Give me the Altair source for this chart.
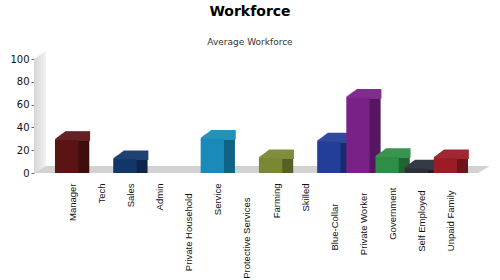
import altair as alt
import pandas as pd

categories = ["Manager", "Tech", "Sales", "Admin", "Private Household", "Service",
              "Protective Services", "Farming", "Skilled", "Blue-Collar",
              "Private Worker", "Government", "Self Employed", "Unpaid Family"]
values = [29, None, 12, None, None, 30, None, 13, None, 27.5, 66, 14, 4, 13]
front_colors = ["#5b1414", "#999999", "#12366a", "#999999", "#999999", "#1a8bb9",
                "#999999", "#7a8734", "#999999", "#233e98", "#7a2187", "#2f8e45",
                "#2b2f3a", "#9b1c26"]
y_ticks = [0, 20, 40, 60, 80, 100]


def shade(hexc, f):
    h = hexc.lstrip("#")
    r, g, b = (int(h[i:i + 2], 16) for i in (0, 2, 4))
    if f < 1:
        r, g, b = (int(c * f) for c in (r, g, b))
    else:
        r, g, b = (int(c + (255 - c) * (f - 1)) for c in (r, g, b))
    return "#%02x%02x%02x" % (r, g, b)


side_colors = [shade(c, 0.72) for c in front_colors]
top_colors = [shade(c, 1.06) for c in front_colors]

df = pd.DataFrame({"cat": categories, "value": values})
df = df.dropna()

W, H = 444, 114
DX, DY, N = 11, 8, 11

xscale = alt.Scale(domain=categories, paddingInner=0.2, paddingOuter=0.72)
yscale = alt.Scale(domain=[0, 100])

label_pad = {
    "condition": [
        {"test": "datum.value == 'Blue-Collar'", "value": 30},
        {"test": "datum.value == 'Protective Services'", "value": 24},
        {"test": "datum.value == 'Private Household'", "value": 20},
        {"test": "datum.value == 'Private Worker'", "value": 19},
        {"test": "datum.value == 'Self Employed' || datum.value == 'Unpaid Family'", "value": 17},
        {"test": "datum.value == 'Government'", "value": 14},
    ],
    "value": 10,
}

x_enc = alt.X("cat:N", scale=xscale, sort=categories,
              axis=alt.Axis(title=None, labelAngle=-90, labelAlign="right",
                            labelBaseline="middle", labelOffset=6, labelPadding=label_pad,
                            ticks=False, domain=False, labelFont="Liberation Sans",
                            labelFontSize=9.5, labelColor="#111111", labelLimit=200))
y_enc = alt.Y("value:Q", scale=yscale,
              axis=alt.Axis(title=None, values=y_ticks, domain=False, grid=False,
                            tickSize=3, tickColor="#666666", labelPadding=2,
                            labelFont="DejaVu Sans", labelFontSize=10,
                            labelColor="#111111"))


def col(rng):
    return alt.Color("cat:N", scale=alt.Scale(domain=categories, range=rng), legend=None)


# background wall and floor (decoration, pixel space)
floor_df = pd.DataFrame({"fx": [0, 12, W, W + 12], "fy": [H, H - 7, H - 7, H - 7],
                         "fy2": [H, H, H, H - 7]})
wall_df = pd.DataFrame({"wy": [-8, 0, H - 7, H], "wx": [12, 0, 0, 0],
                        "wx2": [12, 12, 12, 0]})

wall = alt.Chart(wall_df).mark_area(
    orient="horizontal", interpolate="linear",
    color=alt.LinearGradient(gradient="linear",
                             stops=[alt.GradientStop(color="#d6d6d6", offset=0),
                                    alt.GradientStop(color="#f2f2f2", offset=1)],
                             x1=0, x2=1, y1=0, y2=0)
).encode(
    y=alt.Y("wy:Q", scale=None, axis=None),
    x=alt.X("wx:Q", scale=None, axis=None),
    x2="wx2:Q",
)
floor = alt.Chart(floor_df).mark_area(color="#d2d2d2", interpolate="linear").encode(
    x=alt.X("fx:Q", scale=None, axis=None),
    y=alt.Y("fy:Q", scale=None, axis=None),
    y2="fy2:Q",
)
background = alt.layer(wall, floor)

base = alt.Chart(df)
side_layers = []
for k in range(N, 0, -1):
    side_layers.append(base.mark_bar(xOffset=k * DX / N, yOffset=-k * DY / N).encode(
        x=x_enc, y=y_enc, y2=alt.Y2(datum=0), color=col(side_colors)))
top_layers = []
for k in range(N, 0, -1):
    top_layers.append(base.mark_bar(xOffset=k * DX / N, yOffset=-k * DY / N,
                                    strokeWidth=1.6, fillOpacity=0).encode(
        x=x_enc, y=y_enc, y2="value:Q",
        stroke=alt.Stroke("cat:N", scale=alt.Scale(domain=categories, range=top_colors),
                          legend=None)))
front = base.mark_bar().encode(x=x_enc, y=y_enc, y2=alt.Y2(datum=0),
                               color=col(front_colors))
bars = alt.layer(alt.layer(*side_layers), alt.layer(*top_layers), front).resolve_scale(
    color="independent", stroke="independent")

chart = alt.layer(background, bars).resolve_scale(
    x="independent", y="independent"
).properties(
    width=W, height=H,
    padding={"left": 34, "top": 59, "right": 22, "bottom": 107},
    autosize=alt.AutoSizeParams(type="none"),
    title=alt.TitleParams("Workforce", subtitle="Average Workforce",
                          font="DejaVu Sans", fontSize=14, fontWeight="bold",
                          color="#000000", subtitleFont="DejaVu Sans",
                          subtitleFontSize=9, subtitleColor="#333333",
                          subtitlePadding=19, offset=4, anchor="middle", dx=-6),
).configure(background="white").configure_view(strokeWidth=0, stroke=None)

chart.save("out.html", embed_options={"renderer": "svg", "actions": False})
